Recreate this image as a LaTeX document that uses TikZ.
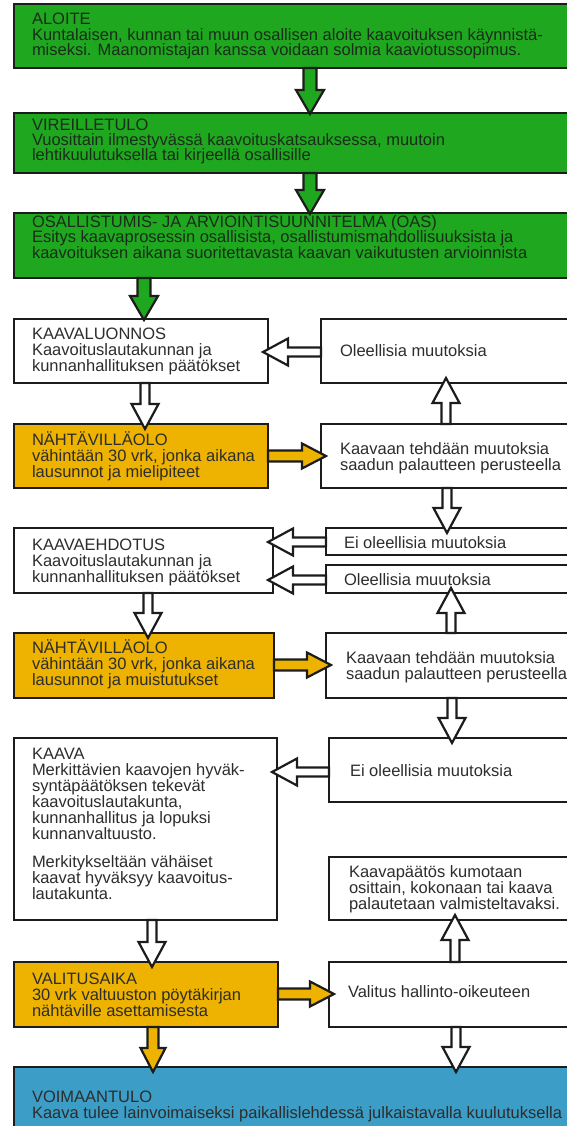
\documentclass[tikz,border=0pt]{standalone}
\usepackage{fontspec}
\setmainfont{Liberation Sans}
\usetikzlibrary{calc}
\definecolor{gfill}{RGB}{31,168,31}
\definecolor{yfill}{RGB}{238,178,0}
\definecolor{bfill}{RGB}{60,157,198}
\definecolor{linec}{RGB}{28,28,28}
\definecolor{textc}{RGB}{45,45,45}
\definecolor{gtext}{RGB}{26,44,26}
\newcommand{\diafont}{\fontsize{16.5}{16}\selectfont\lineskiplimit=-100pt\relax}
\newcommand{\diafontg}{\fontsize{16.5}{15.5}\selectfont\lineskiplimit=-100pt\relax}
\newcommand{\topstr}{\rule{0pt}{15.5pt}}
\begin{document}
\begin{tikzpicture}[x=1pt,y=-1pt,
  boxbase/.style={draw=linec,line width=2.3pt,outer sep=0pt,inner sep=0pt,anchor=north west,rectangle},
  boxG/.style={boxbase,fill=gfill},
  boxW/.style={boxbase,fill=white},
  boxY/.style={boxbase,fill=yfill},
  boxB/.style={boxbase,fill=bfill},
  txt/.style={anchor=north west,inner sep=0pt,outer sep=0pt,align=left,font=\diafont,text=textc},
  txtg/.style={txt,font=\diafontg,text=gtext},
  blk/.style n args={4}{to path={($(\tikztostart)!#1!90:(\tikztotarget)$)
     -- ($(\tikztotarget)!#3!(\tikztostart)!#1!-90:(\tikztostart)$)
     -- ($(\tikztotarget)!#3!(\tikztostart)!#2!-90:(\tikztostart)$)
     -- ($(\tikztotarget)!-#4!(\tikztostart)$)
     -- ($(\tikztotarget)!#3!(\tikztostart)!#2!90:(\tikztostart)$)
     -- ($(\tikztotarget)!#3!(\tikztostart)!#1!90:(\tikztostart)$)
     -- ($(\tikztostart)!#1!-90:(\tikztotarget)$) -- cycle}},
  arrbase/.style={draw=linec,line width=2.2pt,line join=miter},
  arrG/.style={arrbase,blk={6.5pt}{14pt}{23pt}{1pt},fill=gfill},
  arrW/.style={arrbase,blk={4.5pt}{13.5pt}{20pt}{5pt},fill=white},
  arrY/.style={arrbase,blk={5.5pt}{12.5pt}{19pt}{5pt},fill=yfill},
]
\useasboundingbox (0,0) rectangle (567,1126);
\clip (0,0) rectangle (567,1126);
\fill[white] (0,0) rectangle (567,1126);

% boxes
\node[boxG,minimum width=640,minimum height=64] (aloite) at (14,4) {};
\node[boxG,minimum width=640,minimum height=60] (vireil) at (14,113) {};
\node[boxG,minimum width=640,minimum height=65] (oas) at (14,213) {};
\node[boxW,minimum width=254,minimum height=64] (kl) at (14,319) {};
\node[boxW,minimum width=320,minimum height=64] (ol1) at (321,319) {};
\node[boxY,minimum width=254,minimum height=64] (n1) at (14,424) {};
\node[boxW,minimum width=320,minimum height=64] (ka1) at (321,424) {};
\node[boxW,minimum width=259,minimum height=65] (ke) at (14,528) {};
\node[boxW,minimum width=320,minimum height=27] (ei1) at (326,528) {};
\node[boxW,minimum width=320,minimum height=28] (ol2) at (326,565) {};
\node[boxY,minimum width=260,minimum height=65] (n2) at (14,633) {};
\node[boxW,minimum width=320,minimum height=65] (ka2) at (326,633) {};
\node[boxW,minimum width=263,minimum height=182] (kaava) at (14,738) {};
\node[boxW,minimum width=320,minimum height=64] (ei2) at (329,738) {};
\node[boxW,minimum width=320,minimum height=63] (kp) at (329,857) {};
\node[boxY,minimum width=264,minimum height=65] (val) at (14,962) {};
\node[boxW,minimum width=320,minimum height=65] (vh) at (329,962) {};
\node[boxB,minimum width=640,minimum height=100] (voim) at (14,1067) {};

% guide coordinates
\coordinate (gxa) at (310,0);
\coordinate (gxb) at (144,0);
\coordinate (lx1) at (145,0);
\coordinate (lx2) at (148,0);
\coordinate (lx3) at (152,0);
\coordinate (lx4) at (153,0);
\coordinate (rx1) at (446,0);
\coordinate (rx2) at (447,0);
\coordinate (rx3) at (451,0);
\coordinate (rx4) at (452,0);
\coordinate (rx5) at (455,0);
\coordinate (rx6) at (456,0);
\coordinate (hy1) at (0,352);
\coordinate (hy2) at (0,456);
\coordinate (hy3) at (0,542);
\coordinate (hy4) at (0,580);
\coordinate (hy5) at (0,665);
\coordinate (hy6) at (0,772);
\coordinate (hy7) at (0,994);

% arrows
\draw[arrG] (aloite.south -| gxa) to (vireil.north -| gxa);
\draw[arrG] (vireil.south -| gxa) to (oas.north -| gxa);
\draw[arrG] (oas.south -| gxb) to (kl.north -| gxb);
\draw[arrW] (kl.south -| lx1) to (n1.north -| lx1);
\draw[arrW] (ol1.west |- hy1) to (kl.east |- hy1);
\draw[arrY] (n1.east |- hy2) to (ka1.west |- hy2);
\draw[arrW] (ka1.north -| rx1) to (ol1.south -| rx1);
\draw[arrW] (ka1.south -| rx2) to (ei1.north -| rx2);
\draw[arrW] (ei1.west |- hy3) to (ke.east |- hy3);
\draw[arrW] (ol2.west |- hy4) to (ke.east |- hy4);
\draw[arrW] (ke.south -| lx2) to (n2.north -| lx2);
\draw[arrY] (n2.east |- hy5) to (ka2.west |- hy5);
\draw[arrW] (ka2.north -| rx3) to (ol2.south -| rx3);
\draw[arrW] (ka2.south -| rx4) to (ei2.north -| rx4);
\draw[arrW] (ei2.west |- hy6) to (kaava.east |- hy6);
\draw[arrW] (kaava.south -| lx3) to (val.north -| lx3);
\draw[arrY] (val.east |- hy7) to (vh.west |- hy7);
\draw[arrW] (vh.north -| rx5) to (kp.south -| rx5);
\draw[arrY] (val.south -| lx4) to (voim.north -| lx4);
\draw[arrW] (vh.south -| rx6) to (voim.north -| rx6);

% texts
\node[txtg] (aloiteT) at (32,9.5) {\topstr ALOITE\\Kuntalaisen, kunnan tai muun osallisen aloite kaavoituksen käynnistä-\\miseksi. Maanomistajan kanssa voidaan solmia kaaviotussopimus.};
\node[txtg] (vireilT) at (32,114.5) {\topstr VIREILLETULO\\Vuosittain ilmestyvässä kaavoituskatsauksessa, muutoin\\lehtikuulutuksella tai kirjeellä osallisille};
\node[txtg] (oasT) at (32,211.5) {\topstr OSALLISTUMIS- JA ARVIOINTISUUNNITELMA (OAS)\\Esitys kaavaprosessin osallisista, osallistumismahdollisuuksista ja\\kaavoituksen aikana suoritettavasta kaavan vaikutusten arvioinnista};
\node[txt] (klT) at (32,323.5) {\topstr KAAVALUONNOS\\Kaavoituslautakunnan ja\\kunnanhallituksen päätökset};
\node[txt] (ol1T) at (340,340.5) {\topstr Oleellisia muutoksia};
\node[txt] (n1T) at (32,429.5) {\topstr NÄHTÄVILLÄOLO\\vähintään 30 vrk, jonka aikana\\lausunnot ja mielipiteet};
\node[txt] (ka1T) at (340,438.5) {\topstr Kaavaan tehdään muutoksia\\saadun palautteen perusteella};
\node[txt] (keT) at (32,534.5) {\topstr KAAVAEHDOTUS\\Kaavoituslautakunnan ja\\kunnanhallituksen päätökset};
\node[txt] (ei1T) at (344,532.5) {\topstr Ei oleellisia muutoksia};
\node[txt] (ol2T) at (344,569.5) {\topstr Oleellisia muutoksia};
\node[txt] (n2T) at (32,637.5) {\topstr NÄHTÄVILLÄOLO\\vähintään 30 vrk, jonka aikana\\lausunnot ja muistutukset};
\node[txt] (ka2T) at (346,647.5) {\topstr Kaavaan tehdään muutoksia\\saadun palautteen perusteella};
\node[txt] (kaavaT) at (32,743.5) {\topstr KAAVA\\Merkittävien kaavojen hyväk-\\syntäpäätöksen tekevät\\kaavoituslautakunta,\\kunnanhallitus ja lopuksi\\kunnanvaltuusto.\\[12pt]Merkitykseltään vähäiset\\kaavat hyväksyy kaavoitus-\\lautakunta.};
\node[txt] (ei2T) at (350,760.5) {\topstr Ei oleellisia muutoksia};
\node[txt] (kpT) at (349,861.5) {\topstr Kaavapäätös kumotaan\\osittain, kokonaan tai kaava\\palautetaan valmisteltavaksi.};
\node[txt] (valT) at (32,968.5) {\topstr VALITUSAIKA\\30 vrk valtuuston pöytäkirjan\\nähtäville asettamisesta};
\node[txt] (vhT) at (348,981.5) {\topstr Valitus hallinto-oikeuteen};
\node[txt] (voimT) at (32,1086.5) {\topstr VOIMAANTULO\\Kaava tulee lainvoimaiseksi paikallislehdessä julkaistavalla kuulutuksella};
\end{tikzpicture}
\end{document}
